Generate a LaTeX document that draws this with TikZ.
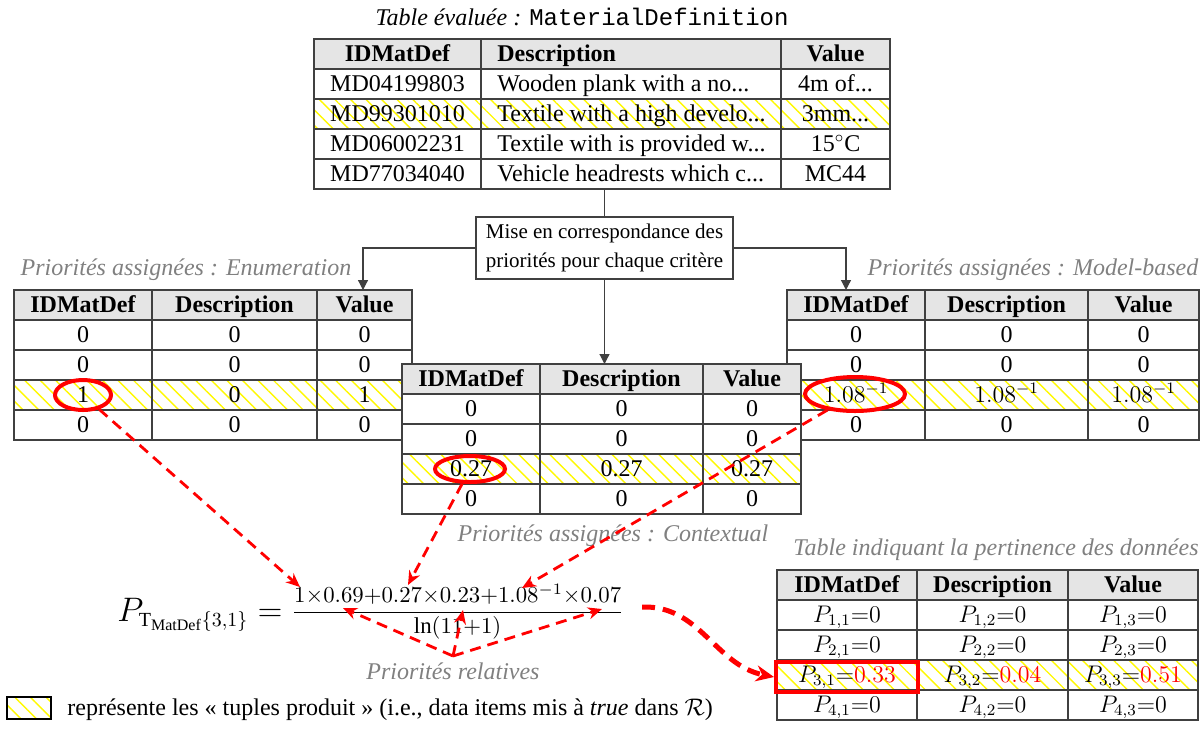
\RequirePackage{fix-cm}
\documentclass[tikz,border=0pt]{standalone}
\usepackage{amsmath}
\usepackage{amssymb}
\usepackage{fontspec}
\setmainfont{Liberation Serif}
\setmonofont{Liberation Mono}
\usepackage{xcolor}
\usepackage{tikz}
\usetikzlibrary{positioning,calc,shapes.geometric,patterns.meta,arrows.meta}

\DeclareMathSizes{17}{17}{10}{8}

\tikzset{
  tabline/.style={draw=black!75, line width=0.6pt},
  hdr/.style={fill=black!10},
  tuple/.style={pattern={Lines[angle=-45,distance=5.5pt,line width=0.7pt]}, pattern color=yellow!95!orange},
  cell/.style={font=\fontsize{12}{14}\selectfont, inner sep=0pt, text height=8.2pt, text depth=1pt},
  hdcell/.style={cell, font=\fontsize{12}{14}\selectfont\bfseries},
  prio/.style={font=\fontsize{12}{14}\selectfont\itshape, text=black!50, inner sep=0pt},
  redmark/.style={ellipse, draw=red, line width=2pt, inner sep=0pt},
  link/.style={draw=black!75, line width=0.6pt, -{Triangle[length=5pt,width=5pt]}},
  relink/.style={draw=red, line width=1.4pt, dash pattern=on 5.5pt off 3.5pt, -{Stealth[length=7pt,width=6pt]}},
}

% grille d'une table : x0, x1, x2, x3, haut, decalage de la ligne hachuree
\newcommand{\tablegrid}[6]{%
  \fill[white] (#1,#5) rectangle (#4,#5+150);
  \fill[hdr] (#1,#5) rectangle (#4,#5+30);
  \fill[tuple] (#1,#5+#6) rectangle (#4,#5+#6+30);
  \draw[tabline] (#1,#5) rectangle (#4,#5+150);
  \foreach \k in {30,60,90,120} { \draw[tabline] (#1,#5+\k) -- (#4,#5+\k); }
  \draw[tabline] (#2,#5) -- (#2,#5+150) (#3,#5) -- (#3,#5+150);
}

\begin{document}
\begin{tikzpicture}[x=0.5pt,y=-0.5pt]
  \useasboundingbox (0,0) rectangle (1202,729);

  % table evaluee
  \node[cell] (title) at (582,18) {\textit{Table évaluée :} \texttt{MaterialDefinition}};
  \tablegrid{314}{481}{781}{890}{39}{60}
  \node[hdcell] (top-0-1) at (397.5,54) {IDMatDef};
  \node[hdcell, anchor=west] (top-0-2) at (497,54) {Description};
  \node[hdcell] (top-0-3) at (835.5,54) {Value};
  \node[cell] (top-1-1) at (397.5,84) {MD04199803};
  \node[cell, anchor=west] (top-1-2) at (497,84) {Wooden plank with a no...};
  \node[cell] (top-1-3) at (835.5,84) {4m of...};
  \node[cell] (top-2-1) at (397.5,114) {MD99301010};
  \node[cell, anchor=west] (top-2-2) at (497,114) {Textile with a high develo...};
  \node[cell] (top-2-3) at (835.5,114) {3mm...};
  \node[cell] (top-3-1) at (397.5,144) {MD06002231};
  \node[cell, anchor=west] (top-3-2) at (497,144) {Textile with is provided w...};
  \node[cell] (top-3-3) at (835.5,144) {15$^\circ$C};
  \node[cell] (top-4-1) at (397.5,174) {MD77034040};
  \node[cell, anchor=west] (top-4-2) at (497,174) {Vehicle headrests which c...};
  \node[cell] (top-4-3) at (835.5,174) {MC44};
  \coordinate (topFoot) at (604.5,189);

  % mise en correspondance
  \node[draw=black!75, line width=0.6pt, align=center, inner sep=0pt,
        font=\fontsize{10.5}{14.5}\selectfont, minimum width=128.5pt, minimum height=31pt]
        (mapBox) at (604.5,248) {Mise en correspondance des\\priorités pour chaque critère};
  \coordinate (enumTop) at (363,290);
  \coordinate (modelTop) at (846,290);
  \coordinate (ctxTop) at (604.5,364);
  \draw[tabline] (topFoot) -- (mapBox.north);
  \draw[link] (mapBox.west) -| (enumTop);
  \draw[link] (mapBox.east) -| (modelTop);
  \draw[link] (mapBox.south) -- (ctxTop);

  % priorites : enumeration
  \node[prio] (enumLbl) at (186,270) {Priorités assignées : Enumeration};
  \tablegrid{14}{152}{317}{412}{290}{90}
  \node[hdcell] (enum-0-1) at (83,305) {IDMatDef};
  \node[hdcell] (enum-0-2) at (234.5,305) {Description};
  \node[hdcell] (enum-0-3) at (364.5,305) {Value};
  \foreach \a/\b/\c [count=\r] in {0/0/0,0/0/0,1/0/1,0/0/0} {
    \node[cell] (enum-\r-1) at (83,305+30*\r) {\a};
    \node[cell] (enum-\r-2) at (234.5,305+30*\r) {\b};
    \node[cell] (enum-\r-3) at (364.5,305+30*\r) {\c};
  }

  % priorites : model-based
  \node[prio] (modelLbl) at (1033,270) {Priorités assignées : Model-based};
  \tablegrid{787}{925}{1088}{1199}{290}{90}
  \node[hdcell] (model-0-1) at (856,305) {IDMatDef};
  \node[hdcell] (model-0-2) at (1006.5,305) {Description};
  \node[hdcell] (model-0-3) at (1143.5,305) {Value};
  \foreach \a/\b/\c [count=\r] in {0/0/0,0/0/0,$1.08^{-1}$/$1.08^{-1}$/$1.08^{-1}$,0/0/0} {
    \node[cell] (model-\r-1) at (856,305+30*\r) {\a};
    \node[cell] (model-\r-2) at (1006.5,305+30*\r) {\b};
    \node[cell] (model-\r-3) at (1143.5,305+30*\r) {\c};
  }

  % priorites : contextual
  \tablegrid{402}{540}{703}{801}{364}{90}
  \node[hdcell] (ctx-0-1) at (471,379) {IDMatDef};
  \node[hdcell] (ctx-0-2) at (621.5,379) {Description};
  \node[hdcell] (ctx-0-3) at (752,379) {Value};
  \foreach \a/\b/\c [count=\r] in {0/0/0,0/0/0,0.27/0.27/0.27,0/0/0} {
    \node[cell] (ctx-\r-1) at (471,379+30*\r) {\a};
    \node[cell] (ctx-\r-2) at (621.5,379+30*\r) {\b};
    \node[cell] (ctx-\r-3) at (752,379+30*\r) {\c};
  }
  \node[prio] (ctxLbl) at (613,536) {Priorités assignées : Contextual};

  % table de pertinence
  \node[prio] (pertLbl) at (996,550) {Table indiquant la pertinence des données};
  \tablegrid{777}{917}{1068}{1198}{570}{90}
  \node[hdcell] (pert-0-1) at (847,585) {IDMatDef};
  \node[hdcell] (pert-0-2) at (992.5,585) {Description};
  \node[hdcell] (pert-0-3) at (1133,585) {Value};
  \foreach \r in {1,2,4} {
    \node[cell] (pert-\r-1) at (847,585+30*\r) {$P_{\r,1}{=}0$};
    \node[cell] (pert-\r-2) at (992.5,585+30*\r) {$P_{\r,2}{=}0$};
    \node[cell] (pert-\r-3) at (1133,585+30*\r) {$P_{\r,3}{=}0$};
  }
  \node[cell] (pert-3-1) at (847,675) {$P_{3,1}{=}\textcolor{red}{0.33}$};
  \node[cell] (pert-3-2) at (992.5,675) {$P_{3,2}{=}\textcolor{red}{0.04}$};
  \node[cell] (pert-3-3) at (1133,675) {$P_{3,3}{=}\textcolor{red}{0.51}$};

  % formule
  \node[inner sep=0pt, anchor=west] (formula) at (117,612)
    {{\fontsize{17}{20}\selectfont $P_{\mathrm{T}_{\mathrm{MatDef}}\{3,1\}} ={}$}\raisebox{1.4pt}{\fontsize{11.4}{14}\selectfont $\displaystyle\frac{1{\times}0.69{+}0.27{\times}0.23{+}1.08^{-1}{\times}0.07}{\ln(11{+}1)}$}};
  \node[prio] (relLbl) at (453,671) {Priorités relatives};

  % marques rouges
  \node[redmark, minimum width=28pt, minimum height=15pt] (enumMark) at (83,395) {};
  \node[redmark, minimum width=35pt, minimum height=13pt] (ctxMark) at (470,469) {};
  \node[redmark, minimum width=50pt, minimum height=17pt] (modelMark) at (855,394) {};
  \node[draw=red, line width=2pt, inner sep=0pt, minimum width=71pt, minimum height=15pt] (pertMark) at (847,677) {};

  % fleches vers la formule
  \coordinate (toEnum) at (300,587);
  \coordinate (toCtx) at (408,585);
  \coordinate (toModel) at (522,588);
  \coordinate (relSrc) at (453,656);
  \coordinate (relA) at (343,608);
  \coordinate (relB) at (463,610);
  \coordinate (relC) at (602,609);
  \coordinate (pertFrom) at (642,607);
  \draw[relink] (enumMark) -- (toEnum);
  \draw[relink] (ctxMark) -- (toCtx);
  \draw[relink] (modelMark) -- (toModel);
  \draw[relink] (relSrc) -- (relA);
  \draw[relink] (relSrc) -- (relB);
  \draw[relink] (relSrc) -- (relC);
  \draw[red, line width=2.5pt, dash pattern=on 6.5pt off 4pt, -{Stealth[length=9pt,width=8pt]}]
    (pertFrom) .. controls (700,605) and (715,665) .. (pertMark.west);

  % legende
  \draw[line width=0.6pt, tuple] (7,697) rectangle (51,719);
  \node[cell, anchor=west] (legend) at (67,708) {représente les « tuples produit » (i.e., data items mis à \textit{true} dans $\mathcal{R}$)};
\end{tikzpicture}
\end{document}
